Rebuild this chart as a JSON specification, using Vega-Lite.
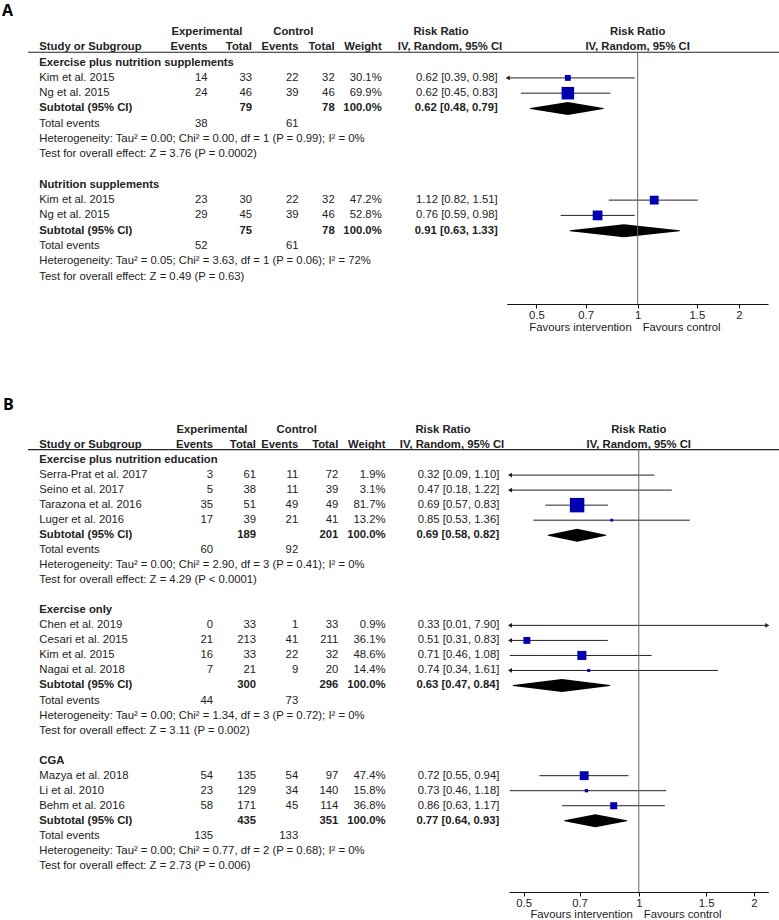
{
"$schema": "https://vega.github.io/schema/vega-lite/v6.json",
"background": "white",
"padding": 0,
"spacing": 98,
"bounds": "flush",
"config": {"view": {"stroke": null}, "text": {"font": "Liberation Sans", "fontSize": 11.3, "color": "#222", "baseline": "middle"}},
"datasets": {
"panels": [{"panel": "A"}, {"panel": "B"}],
"headers": [
{"row": 0, "key": "exph", "text": "Experimental"},
{"row": 0, "key": "ctlh", "text": "Control"},
{"row": 0, "key": "rrh1", "text": "Risk Ratio"},
{"row": 1, "key": "study", "text": "Study or Subgroup"},
{"row": 1, "key": "ee", "text": "Events"},
{"row": 1, "key": "et", "text": "Total"},
{"row": 1, "key": "ce", "text": "Events"},
{"row": 1, "key": "ct", "text": "Total"},
{"row": 1, "key": "wt", "text": "Weight"},
{"row": 1, "key": "rrh2", "text": "IV, Random, 95% CI"}
],
"forestHeaders": [{"row": 0, "text": "Risk Ratio"}, {"row": 1, "text": "IV, Random, 95% CI"}],
"favours": [{"side": "intervention", "text": "Favours intervention"}, {"side": "control", "text": "Favours control"}],
"rows": [
{"panel": "A", "row": 2, "kind": "group", "label": "Exercise plus nutrition supplements"},
{"panel": "A", "row": 3, "kind": "study", "label": "Kim et al. 2015", "ee": 14, "et": 33, "ce": 22, "ct": 32, "w": 30.1, "rr": 0.62, "lo": 0.39, "hi": 0.98},
{"panel": "A", "row": 4, "kind": "study", "label": "Ng et al. 2015", "ee": 24, "et": 46, "ce": 39, "ct": 46, "w": 69.9, "rr": 0.62, "lo": 0.45, "hi": 0.83},
{"panel": "A", "row": 5, "kind": "subtotal", "label": "Subtotal (95% CI)", "et": 79, "ct": 78, "w": 100, "rr": 0.62, "lo": 0.48, "hi": 0.79},
{"panel": "A", "row": 6, "kind": "total", "label": "Total events", "ee": 38, "ce": 61},
{"panel": "A", "row": 7, "kind": "note", "label": "Heterogeneity: Tau² = 0.00; Chi² = 0.00, df = 1 (P = 0.99); I² = 0%"},
{"panel": "A", "row": 8, "kind": "note", "label": "Test for overall effect: Z = 3.76 (P = 0.0002)"},
{"panel": "A", "row": 10, "kind": "group", "label": "Nutrition supplements"},
{"panel": "A", "row": 11, "kind": "study", "label": "Kim et al. 2015", "ee": 23, "et": 30, "ce": 22, "ct": 32, "w": 47.2, "rr": 1.12, "lo": 0.82, "hi": 1.51},
{"panel": "A", "row": 12, "kind": "study", "label": "Ng et al. 2015", "ee": 29, "et": 45, "ce": 39, "ct": 46, "w": 52.8, "rr": 0.76, "lo": 0.59, "hi": 0.98},
{"panel": "A", "row": 13, "kind": "subtotal", "label": "Subtotal (95% CI)", "et": 75, "ct": 78, "w": 100, "rr": 0.91, "lo": 0.63, "hi": 1.33},
{"panel": "A", "row": 14, "kind": "total", "label": "Total events", "ee": 52, "ce": 61},
{"panel": "A", "row": 15, "kind": "note", "label": "Heterogeneity: Tau² = 0.05; Chi² = 3.63, df = 1 (P = 0.06); I² = 72%"},
{"panel": "A", "row": 16, "kind": "note", "label": "Test for overall effect: Z = 0.49 (P = 0.63)"},
{"panel": "B", "row": 2, "kind": "group", "label": "Exercise plus nutrition education"},
{"panel": "B", "row": 3, "kind": "study", "label": "Serra-Prat et al. 2017", "ee": 3, "et": 61, "ce": 11, "ct": 72, "w": 1.9, "rr": 0.32, "lo": 0.09, "hi": 1.10},
{"panel": "B", "row": 4, "kind": "study", "label": "Seino et al. 2017", "ee": 5, "et": 38, "ce": 11, "ct": 39, "w": 3.1, "rr": 0.47, "lo": 0.18, "hi": 1.22},
{"panel": "B", "row": 5, "kind": "study", "label": "Tarazona et al. 2016", "ee": 35, "et": 51, "ce": 49, "ct": 49, "w": 81.7, "rr": 0.69, "lo": 0.57, "hi": 0.83},
{"panel": "B", "row": 6, "kind": "study", "label": "Luger et al. 2016", "ee": 17, "et": 39, "ce": 21, "ct": 41, "w": 13.2, "rr": 0.85, "lo": 0.53, "hi": 1.36},
{"panel": "B", "row": 7, "kind": "subtotal", "label": "Subtotal (95% CI)", "et": 189, "ct": 201, "w": 100, "rr": 0.69, "lo": 0.58, "hi": 0.82},
{"panel": "B", "row": 8, "kind": "total", "label": "Total events", "ee": 60, "ce": 92},
{"panel": "B", "row": 9, "kind": "note", "label": "Heterogeneity: Tau² = 0.00; Chi² = 2.90, df = 3 (P = 0.41); I² = 0%"},
{"panel": "B", "row": 10, "kind": "note", "label": "Test for overall effect: Z = 4.29 (P < 0.0001)"},
{"panel": "B", "row": 12, "kind": "group", "label": "Exercise only"},
{"panel": "B", "row": 13, "kind": "study", "label": "Chen et al. 2019", "ee": 0, "et": 33, "ce": 1, "ct": 33, "w": 0.9, "rr": 0.33, "lo": 0.01, "hi": 7.90},
{"panel": "B", "row": 14, "kind": "study", "label": "Cesari et al. 2015", "ee": 21, "et": 213, "ce": 41, "ct": 211, "w": 36.1, "rr": 0.51, "lo": 0.31, "hi": 0.83},
{"panel": "B", "row": 15, "kind": "study", "label": "Kim et al. 2015", "ee": 16, "et": 33, "ce": 22, "ct": 32, "w": 48.6, "rr": 0.71, "lo": 0.46, "hi": 1.08},
{"panel": "B", "row": 16, "kind": "study", "label": "Nagai et al. 2018", "ee": 7, "et": 21, "ce": 9, "ct": 20, "w": 14.4, "rr": 0.74, "lo": 0.34, "hi": 1.61},
{"panel": "B", "row": 17, "kind": "subtotal", "label": "Subtotal (95% CI)", "et": 300, "ct": 296, "w": 100, "rr": 0.63, "lo": 0.47, "hi": 0.84},
{"panel": "B", "row": 18, "kind": "total", "label": "Total events", "ee": 44, "ce": 73},
{"panel": "B", "row": 19, "kind": "note", "label": "Heterogeneity: Tau² = 0.00; Chi² = 1.34, df = 3 (P = 0.72); I² = 0%"},
{"panel": "B", "row": 20, "kind": "note", "label": "Test for overall effect: Z = 3.11 (P = 0.002)"},
{"panel": "B", "row": 22, "kind": "group", "label": "CGA"},
{"panel": "B", "row": 23, "kind": "study", "label": "Mazya et al. 2018", "ee": 54, "et": 135, "ce": 54, "ct": 97, "w": 47.4, "rr": 0.72, "lo": 0.55, "hi": 0.94},
{"panel": "B", "row": 24, "kind": "study", "label": "Li et al. 2010", "ee": 23, "et": 129, "ce": 34, "ct": 140, "w": 15.8, "rr": 0.73, "lo": 0.46, "hi": 1.18},
{"panel": "B", "row": 25, "kind": "study", "label": "Behm et al. 2016", "ee": 58, "et": 171, "ce": 45, "ct": 114, "w": 36.8, "rr": 0.86, "lo": 0.63, "hi": 1.17},
{"panel": "B", "row": 26, "kind": "subtotal", "label": "Subtotal (95% CI)", "et": 435, "ct": 351, "w": 100, "rr": 0.77, "lo": 0.64, "hi": 0.93},
{"panel": "B", "row": 27, "kind": "total", "label": "Total events", "ee": 135, "ce": 133},
{"panel": "B", "row": 28, "kind": "note", "label": "Heterogeneity: Tau² = 0.00; Chi² = 0.77, df = 2 (P = 0.68); I² = 0%"},
{"panel": "B", "row": 29, "kind": "note", "label": "Test for overall effect: Z = 2.73 (P = 0.006)"}
]
},
"vconcat": [
{
"width": 779, "height": 304,
"resolve": {"scale": {"x": "independent"}, "axis": {"x": "independent"}},
"layer": [
{"layer": [
{"data": {"name": "panels"}, "transform": [{"filter": "datum.panel == 'A'"}],
 "mark": {"type": "text", "align": "left", "font": "Open Sans", "fontSize": 16, "fontWeight": "bold", "color": "#000"},
 "encoding": {"x": {"datum": 0, "type": "quantitative", "scale": {"domain": [0,1,2,3,4,5,6,7,8,9,10,11,12,13], "range": [2,28,39.3,207,207.5,252,293.3,298.5,334.7,381.7,441,450,497.7,779], "nice": false, "zero": false}, "axis": null},
  "y": {"datum": -1.4, "type": "quantitative", "scale": {"domain": [-2.1, 17.8], "reverse": true, "nice": false, "zero": false}, "axis": null},
  "text": {"field": "panel"}}},
{"data": {"name": "panels"}, "transform": [{"filter": "datum.panel == 'A'"}],
 "mark": {"type": "rule", "color": "#222", "strokeWidth": 1.2},
 "encoding": {"x": {"datum": 1, "type": "quantitative", "axis": null}, "x2": {"datum": 13}, "y": {"datum": 1.32, "type": "quantitative", "axis": null}}},
{"data": {"name": "headers"}, "transform": [{"filter": {"field": "key", "oneOf": ["study"]}}, {"calculate": "indexof(['panel','rulel','study','exph','ee','et','ctlh','ce','ct','wt','rrh1','rrh2','rrt','ruler'], datum.key)", "as": "col"}],
 "mark": {"type": "text", "align": "left", "fontWeight": "bold"},
 "encoding": {"x": {"field": "col", "type": "quantitative", "axis": null}, "y": {"field": "row", "type": "quantitative", "axis": null}, "text": {"field": "text"}}},
{"data": {"name": "headers"}, "transform": [{"filter": {"field": "key", "oneOf": ["ee","et","ce","ct","wt"]}}, {"calculate": "indexof(['panel','rulel','study','exph','ee','et','ctlh','ce','ct','wt','rrh1','rrh2','rrt','ruler'], datum.key)", "as": "col"}],
 "mark": {"type": "text", "align": "right", "fontWeight": "bold"},
 "encoding": {"x": {"field": "col", "type": "quantitative", "axis": null}, "y": {"field": "row", "type": "quantitative", "axis": null}, "text": {"field": "text"}}},
{"data": {"name": "headers"}, "transform": [{"filter": {"field": "key", "oneOf": ["exph","ctlh","rrh1","rrh2"]}}, {"calculate": "indexof(['panel','rulel','study','exph','ee','et','ctlh','ce','ct','wt','rrh1','rrh2','rrt','ruler'], datum.key)", "as": "col"}],
 "mark": {"type": "text", "align": "center", "fontWeight": "bold"},
 "encoding": {"x": {"field": "col", "type": "quantitative", "axis": null}, "y": {"field": "row", "type": "quantitative", "axis": null}, "text": {"field": "text"}}},
{"data": {"name": "rows"}, "transform": [{"filter": "datum.panel == 'A' && indexof(['study','total','note'], datum.kind) >= 0"}],
 "mark": {"type": "text", "align": "left"},
 "encoding": {"x": {"datum": 2, "type": "quantitative", "axis": null}, "y": {"field": "row", "type": "quantitative", "axis": null}, "text": {"field": "label"}}},
{"data": {"name": "rows"}, "transform": [{"filter": "datum.panel == 'A' && indexof(['group','subtotal'], datum.kind) >= 0"}],
 "mark": {"type": "text", "align": "left", "fontWeight": "bold"},
 "encoding": {"x": {"datum": 2, "type": "quantitative", "axis": null}, "y": {"field": "row", "type": "quantitative", "axis": null}, "text": {"field": "label"}}},
{"data": {"name": "rows"}, "transform": [{"filter": "datum.panel == 'A' && indexof(['study','total'], datum.kind) >= 0"},
  {"calculate": "isValid(datum.w) ? format(datum.w, '.1f') + '%' : null", "as": "wt"},
  {"calculate": "isValid(datum.rr) ? format(datum.rr, '.2f') + ' [' + format(datum.lo, '.2f') + ', ' + format(datum.hi, '.2f') + ']' : null", "as": "rrt"},
  {"fold": ["ee","et","ce","ct","wt","rrt"]}, {"filter": "isValid(datum.value)"},
  {"calculate": "indexof(['panel','rulel','study','exph','ee','et','ctlh','ce','ct','wt','rrh1','rrh2','rrt','ruler'], datum.key)", "as": "col"}],
 "mark": {"type": "text", "align": "right"},
 "encoding": {"x": {"field": "col", "type": "quantitative", "axis": null}, "y": {"field": "row", "type": "quantitative", "axis": null}, "text": {"field": "value", "type": "nominal"}}},
{"data": {"name": "rows"}, "transform": [{"filter": "datum.panel == 'A' && datum.kind == 'subtotal'"},
  {"calculate": "format(datum.w, '.1f') + '%'", "as": "wt"},
  {"calculate": "format(datum.rr, '.2f') + ' [' + format(datum.lo, '.2f') + ', ' + format(datum.hi, '.2f') + ']'", "as": "rrt"},
  {"fold": ["et","ct","wt","rrt"]}, {"filter": "isValid(datum.value)"},
  {"calculate": "indexof(['panel','rulel','study','exph','ee','et','ctlh','ce','ct','wt','rrh1','rrh2','rrt','ruler'], datum.key)", "as": "col"}],
 "mark": {"type": "text", "align": "right", "fontWeight": "bold"},
 "encoding": {"x": {"field": "col", "type": "quantitative", "axis": null}, "y": {"field": "row", "type": "quantitative", "axis": null}, "text": {"field": "value", "type": "nominal"}}}
]},
{"resolve": {"scale": {"size": "independent"}},
 "layer": [
{"data": {"name": "rows"}, "transform": [{"filter": "datum.panel == 'A' && datum.kind == 'study'"}],
 "mark": {"type": "rule", "color": "#222"},
 "encoding": {"x": {"field": "lo", "type": "quantitative", "scale": {"type": "log", "domain": [0.408, 2.44], "range": [506.7, 768], "clamp": true, "nice": false},
   "axis": {"values": [0.5,0.7,1,1.5,2], "format": "~g", "title": null, "grid": false, "domainColor": "#111", "tickColor": "#111", "labelColor": "#222", "labelFont": "Liberation Sans", "labelFontSize": 11.3, "tickSize": 4, "labelPadding": 1, "labelFlush": false, "labelOverlap": false}},
  "x2": {"field": "hi"}, "y": {"field": "row", "type": "quantitative", "axis": null}}},
{"data": {"name": "rows"}, "transform": [{"filter": "datum.panel == 'A' && datum.kind == 'study' && datum.rr >= 0.408"}],
 "mark": {"type": "point", "shape": "square", "filled": true, "color": "#0000b0", "opacity": 1},
 "encoding": {"x": {"field": "rr", "type": "quantitative"}, "y": {"field": "row", "type": "quantitative", "axis": null},
  "size": {"field": "w", "type": "quantitative", "scale": {"type": "pow", "exponent": 1.8, "domain": [0, 100], "range": [0, 300]}, "legend": null}}},
{"data": {"name": "rows"}, "transform": [{"filter": "datum.panel == 'A' && datum.kind == 'study' && datum.lo < 0.408"}],
 "mark": {"type": "point", "shape": "triangle-left", "filled": true, "color": "#222", "size": 22, "opacity": 1, "xOffset": 1},
 "encoding": {"x": {"field": "lo", "type": "quantitative"}, "y": {"field": "row", "type": "quantitative", "axis": null}}},
{"data": {"name": "rows"}, "transform": [{"filter": "datum.panel == 'A' && datum.kind == 'subtotal'"}, {"fold": ["lo","rr","hi"]}, {"calculate": "datum.key == 'rr' ? 'mid' : 'end'", "as": "part"}],
 "mark": {"type": "trail", "color": "#000"},
 "encoding": {"x": {"field": "value", "type": "quantitative"}, "y": {"field": "row", "type": "quantitative", "axis": null},
  "size": {"field": "part", "type": "nominal", "scale": {"type": "point", "domain": ["end","mid"], "range": [0, 13], "padding": 0}, "legend": null},
  "detail": {"field": "row"}, "order": {"field": "value", "type": "quantitative"}}},
{"data": {"name": "panels"}, "transform": [{"filter": "datum.panel == 'A'"}],
 "mark": {"type": "rule", "color": "#666"},
 "encoding": {"x": {"datum": 1, "type": "quantitative"}, "y": {"datum": 1.32, "type": "quantitative", "axis": null}, "y2": {"datum": 17.8}}},
{"data": {"name": "forestHeaders"},
 "mark": {"type": "text", "align": "center", "fontWeight": "bold"},
 "encoding": {"x": {"datum": 1, "type": "quantitative"}, "y": {"field": "row", "type": "quantitative", "axis": null}, "text": {"field": "text"}}},
{"data": {"name": "favours"}, "transform": [{"filter": "datum.side == 'intervention'"}],
 "mark": {"type": "text", "align": "right", "dx": -6},
 "encoding": {"x": {"datum": 1, "type": "quantitative"}, "y": {"datum": 19.35, "type": "quantitative", "axis": null}, "text": {"field": "text"}}},
{"data": {"name": "favours"}, "transform": [{"filter": "datum.side == 'control'"}],
 "mark": {"type": "text", "align": "left", "dx": 5},
 "encoding": {"x": {"datum": 1, "type": "quantitative"}, "y": {"datum": 19.35, "type": "quantitative", "axis": null}, "text": {"field": "text"}}}
]}
]
},
{
"width": 779, "height": 490,
"resolve": {"scale": {"x": "independent"}, "axis": {"x": "independent"}},
"layer": [
{"layer": [
{"data": {"name": "panels"}, "transform": [{"filter": "datum.panel == 'B'"}],
 "mark": {"type": "text", "align": "left", "font": "Open Sans", "fontSize": 16, "fontWeight": "bold", "color": "#000"},
 "encoding": {"x": {"datum": 0, "type": "quantitative", "scale": {"domain": [0,1,2,3,4,5,6,7,8,9,10,11,12,13], "range": [3,28,39.3,212,213,256,296.7,298.2,338.3,385.5,443,452,499.3,779], "nice": false, "zero": false}, "axis": null},
  "y": {"datum": -1.66, "type": "quantitative", "scale": {"domain": [-1.863, 30.74], "reverse": true, "nice": false, "zero": false}, "axis": null},
  "text": {"field": "panel"}}},
{"data": {"name": "panels"}, "transform": [{"filter": "datum.panel == 'B'"}],
 "mark": {"type": "rule", "color": "#222", "strokeWidth": 1.2},
 "encoding": {"x": {"datum": 1, "type": "quantitative", "axis": null}, "x2": {"datum": 13}, "y": {"datum": 1.3, "type": "quantitative", "axis": null}}},
{"data": {"name": "headers"}, "transform": [{"filter": {"field": "key", "oneOf": ["study"]}}, {"calculate": "indexof(['panel','rulel','study','exph','ee','et','ctlh','ce','ct','wt','rrh1','rrh2','rrt','ruler'], datum.key)", "as": "col"}],
 "mark": {"type": "text", "align": "left", "fontWeight": "bold"},
 "encoding": {"x": {"field": "col", "type": "quantitative", "axis": null}, "y": {"field": "row", "type": "quantitative", "axis": null}, "text": {"field": "text"}}},
{"data": {"name": "headers"}, "transform": [{"filter": {"field": "key", "oneOf": ["ee","et","ce","ct","wt"]}}, {"calculate": "indexof(['panel','rulel','study','exph','ee','et','ctlh','ce','ct','wt','rrh1','rrh2','rrt','ruler'], datum.key)", "as": "col"}],
 "mark": {"type": "text", "align": "right", "fontWeight": "bold"},
 "encoding": {"x": {"field": "col", "type": "quantitative", "axis": null}, "y": {"field": "row", "type": "quantitative", "axis": null}, "text": {"field": "text"}}},
{"data": {"name": "headers"}, "transform": [{"filter": {"field": "key", "oneOf": ["exph","ctlh","rrh1","rrh2"]}}, {"calculate": "indexof(['panel','rulel','study','exph','ee','et','ctlh','ce','ct','wt','rrh1','rrh2','rrt','ruler'], datum.key)", "as": "col"}],
 "mark": {"type": "text", "align": "center", "fontWeight": "bold"},
 "encoding": {"x": {"field": "col", "type": "quantitative", "axis": null}, "y": {"field": "row", "type": "quantitative", "axis": null}, "text": {"field": "text"}}},
{"data": {"name": "rows"}, "transform": [{"filter": "datum.panel == 'B' && indexof(['study','total','note'], datum.kind) >= 0"}],
 "mark": {"type": "text", "align": "left"},
 "encoding": {"x": {"datum": 2, "type": "quantitative", "axis": null}, "y": {"field": "row", "type": "quantitative", "axis": null}, "text": {"field": "label"}}},
{"data": {"name": "rows"}, "transform": [{"filter": "datum.panel == 'B' && indexof(['group','subtotal'], datum.kind) >= 0"}],
 "mark": {"type": "text", "align": "left", "fontWeight": "bold"},
 "encoding": {"x": {"datum": 2, "type": "quantitative", "axis": null}, "y": {"field": "row", "type": "quantitative", "axis": null}, "text": {"field": "label"}}},
{"data": {"name": "rows"}, "transform": [{"filter": "datum.panel == 'B' && indexof(['study','total'], datum.kind) >= 0"},
  {"calculate": "isValid(datum.w) ? format(datum.w, '.1f') + '%' : null", "as": "wt"},
  {"calculate": "isValid(datum.rr) ? format(datum.rr, '.2f') + ' [' + format(datum.lo, '.2f') + ', ' + format(datum.hi, '.2f') + ']' : null", "as": "rrt"},
  {"fold": ["ee","et","ce","ct","wt","rrt"]}, {"filter": "isValid(datum.value)"},
  {"calculate": "indexof(['panel','rulel','study','exph','ee','et','ctlh','ce','ct','wt','rrh1','rrh2','rrt','ruler'], datum.key)", "as": "col"}],
 "mark": {"type": "text", "align": "right"},
 "encoding": {"x": {"field": "col", "type": "quantitative", "axis": null}, "y": {"field": "row", "type": "quantitative", "axis": null}, "text": {"field": "value", "type": "nominal"}}},
{"data": {"name": "rows"}, "transform": [{"filter": "datum.panel == 'B' && datum.kind == 'subtotal'"},
  {"calculate": "format(datum.w, '.1f') + '%'", "as": "wt"},
  {"calculate": "format(datum.rr, '.2f') + ' [' + format(datum.lo, '.2f') + ', ' + format(datum.hi, '.2f') + ']'", "as": "rrt"},
  {"fold": ["et","ct","wt","rrt"]}, {"filter": "isValid(datum.value)"},
  {"calculate": "indexof(['panel','rulel','study','exph','ee','et','ctlh','ce','ct','wt','rrh1','rrh2','rrt','ruler'], datum.key)", "as": "col"}],
 "mark": {"type": "text", "align": "right", "fontWeight": "bold"},
 "encoding": {"x": {"field": "col", "type": "quantitative", "axis": null}, "y": {"field": "row", "type": "quantitative", "axis": null}, "text": {"field": "value", "type": "nominal"}}}
]},
{"resolve": {"scale": {"size": "independent"}},
 "layer": [
{"data": {"name": "rows"}, "transform": [{"filter": "datum.panel == 'B' && datum.kind == 'study'"}],
 "mark": {"type": "rule", "color": "#222"},
 "encoding": {"x": {"field": "lo", "type": "quantitative", "scale": {"type": "log", "domain": [0.458, 2.18], "range": [509, 768.3], "clamp": true, "nice": false},
   "axis": {"values": [0.5,0.7,1,1.5,2], "format": "~g", "title": null, "grid": false, "domainColor": "#111", "tickColor": "#111", "labelColor": "#222", "labelFont": "Liberation Sans", "labelFontSize": 11.3, "tickSize": 4, "labelPadding": 1, "labelFlush": false, "labelOverlap": false}},
  "x2": {"field": "hi"}, "y": {"field": "row", "type": "quantitative", "axis": null}}},
{"data": {"name": "rows"}, "transform": [{"filter": "datum.panel == 'B' && datum.kind == 'study' && datum.rr >= 0.458"}],
 "mark": {"type": "point", "shape": "square", "filled": true, "color": "#0000b0", "opacity": 1},
 "encoding": {"x": {"field": "rr", "type": "quantitative"}, "y": {"field": "row", "type": "quantitative", "axis": null},
  "size": {"field": "w", "type": "quantitative", "scale": {"type": "pow", "exponent": 1.8, "domain": [0, 100], "range": [0, 300]}, "legend": null}}},
{"data": {"name": "rows"}, "transform": [{"filter": "datum.panel == 'B' && datum.kind == 'study' && datum.lo < 0.458"}],
 "mark": {"type": "point", "shape": "triangle-left", "filled": true, "color": "#222", "size": 22, "opacity": 1, "xOffset": 1},
 "encoding": {"x": {"field": "lo", "type": "quantitative"}, "y": {"field": "row", "type": "quantitative", "axis": null}}},
{"data": {"name": "rows"}, "transform": [{"filter": "datum.panel == 'B' && datum.kind == 'study' && datum.hi > 2.18"}],
 "mark": {"type": "point", "shape": "triangle-right", "filled": true, "color": "#222", "size": 22, "opacity": 1, "xOffset": -1},
 "encoding": {"x": {"field": "hi", "type": "quantitative"}, "y": {"field": "row", "type": "quantitative", "axis": null}}},
{"data": {"name": "rows"}, "transform": [{"filter": "datum.panel == 'B' && datum.kind == 'subtotal'"}, {"fold": ["lo","rr","hi"]}, {"calculate": "datum.key == 'rr' ? 'mid' : 'end'", "as": "part"}],
 "mark": {"type": "trail", "color": "#000"},
 "encoding": {"x": {"field": "value", "type": "quantitative"}, "y": {"field": "row", "type": "quantitative", "axis": null},
  "size": {"field": "part", "type": "nominal", "scale": {"type": "point", "domain": ["end","mid"], "range": [0, 13], "padding": 0}, "legend": null},
  "detail": {"field": "row"}, "order": {"field": "value", "type": "quantitative"}}},
{"data": {"name": "panels"}, "transform": [{"filter": "datum.panel == 'B'"}],
 "mark": {"type": "rule", "color": "#666"},
 "encoding": {"x": {"datum": 1, "type": "quantitative"}, "y": {"datum": 1.3, "type": "quantitative", "axis": null}, "y2": {"datum": 30.74}}},
{"data": {"name": "forestHeaders"},
 "mark": {"type": "text", "align": "center", "fontWeight": "bold"},
 "encoding": {"x": {"datum": 1, "type": "quantitative"}, "y": {"field": "row", "type": "quantitative", "axis": null}, "text": {"field": "text"}}},
{"data": {"name": "favours"}, "transform": [{"filter": "datum.side == 'intervention'"}],
 "mark": {"type": "text", "align": "right", "dx": -6},
 "encoding": {"x": {"datum": 1, "type": "quantitative"}, "y": {"datum": 32.27, "type": "quantitative", "axis": null}, "text": {"field": "text"}}},
{"data": {"name": "favours"}, "transform": [{"filter": "datum.side == 'control'"}],
 "mark": {"type": "text", "align": "left", "dx": 5},
 "encoding": {"x": {"datum": 1, "type": "quantitative"}, "y": {"datum": 32.27, "type": "quantitative", "axis": null}, "text": {"field": "text"}}}
]}
]
}
]
}
